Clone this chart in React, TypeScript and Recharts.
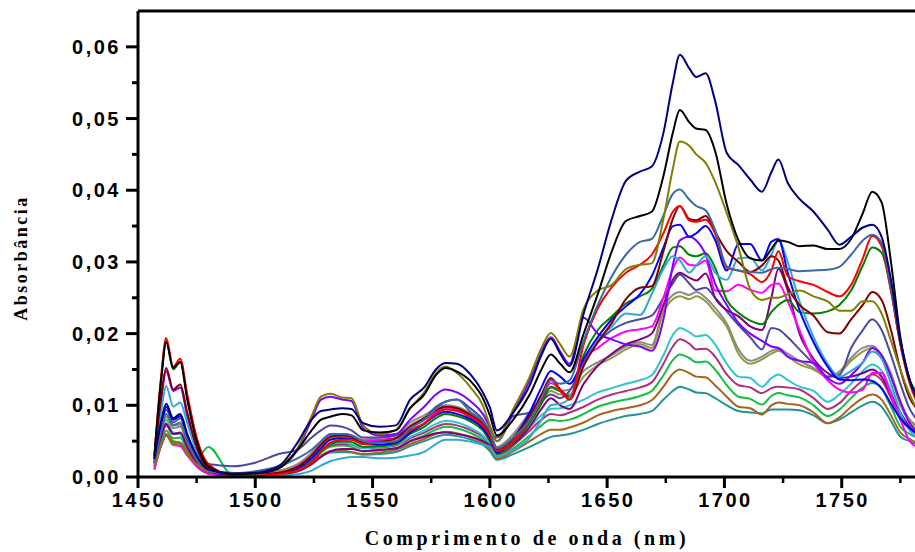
import { LineChart, Line, XAxis, YAxis, ReferenceLine } from "recharts";

// wavelength grid (nm), rows of 10
const WAVELENGTH = [
  1457, 1460, 1462, 1465, 1468, 1471, 1475, 1480, 1490, 1500,
  1510, 1518, 1524, 1528, 1532, 1537, 1541, 1546, 1553, 1560,
  1566, 1572, 1577, 1581, 1586, 1592, 1597, 1600, 1603, 1610,
  1617, 1622, 1626, 1630, 1634, 1640, 1646, 1652, 1658, 1664,
  1669, 1674, 1678, 1681, 1685, 1688, 1692, 1696, 1701, 1706,
  1711, 1716, 1720, 1723, 1727, 1732, 1738, 1744, 1749, 1754,
  1759, 1763, 1767, 1771, 1775, 1779, 1782,
];

// absorbance values in units of 1e-3
const NAVY = [
  2.5, 8, 10.2, 8.2, 8.8, 6, 3, 1.0, 0.5, 0.6,
  1.5, 4.8, 8.0, 9.2, 9.4, 9.6, 9.5, 7.5, 7.0, 7.2,
  10.8, 12.5, 15.0, 15.9, 15.8, 14.2, 11.8, 9.7, 6.5, 9.0,
  12.8, 17.0, 19.3, 17.2, 15.5, 22.8, 29.0, 36.0, 41.3, 42.6,
  43.3, 48.0, 55.0, 58.9, 57.0, 55.8, 56.3, 52.5, 45.2, 43.5,
  41.5, 39.8, 42.5, 44.3, 41.0, 38.8, 37.0, 34.5, 32.4, 33.5,
  34.8, 35.2, 33.5, 27.5, 19.0, 13.5, 11.0,
];
const BLACK = [
  3.0, 14.0, 18.8, 15.2, 16.0, 10.8, 5.0, 1.5, 0.4, 0.5,
  1.2, 3.8, 6.5, 8.0, 8.4, 8.8, 8.6, 6.5, 6.2, 6.5,
  9.6, 11.5, 14.2, 15.2, 14.7, 13.3, 11.0, 8.6, 5.8, 8.0,
  11.5, 15.0, 17.1, 15.8, 14.6, 20.0, 25.5, 31.5, 35.7, 36.4,
  37.0, 42.0, 48.0, 51.2, 49.5, 48.6, 48.4, 45.5, 38.0, 33.0,
  30.5, 30.2, 31.8, 33.0, 32.8, 32.2, 32.3, 31.8, 31.8, 33.2,
  36.8, 39.8, 38.3, 30.0, 19.5, 13.5, 11.0,
];
const OLIVE = [
  1.5, 4.5, 5.8, 4.5, 4.8, 3.2, 1.8, 0.8, 0.6, 0.4,
  1.5, 4.0, 8.5, 11.2, 11.6, 11.1, 11.0, 7.2, 6.0, 6.6,
  9.6, 11.8, 14.5, 15.4, 14.5, 12.4, 10.0, 7.2, 5.0, 9.5,
  14.0, 18.0, 20.1, 18.5, 16.8, 23.5, 26.0, 26.8, 29.0, 29.6,
  29.8, 36.0, 43.0, 46.8, 46.2, 45.0, 43.8, 41.2, 36.8, 32.0,
  26.2, 24.7, 25.0, 25.0, 25.5, 26.0, 25.2, 24.5, 23.2, 23.2,
  24.5, 24.5, 22.8, 19.0, 15.0, 11.5, 9.5,
];
const STEEL = [
  2.0, 6.5, 8.8, 7.2, 7.6, 5.0, 2.5, 0.8, 0.5, 0.8,
  1.5, 2.6, 3.8, 5.0, 6.0, 6.0, 5.8, 5.0, 4.8, 5.0,
  6.8, 8.0, 9.5, 10.5, 10.8, 9.0, 7.8, 6.5, 4.0, 5.5,
  8.0, 11.0, 13.5, 13.0, 13.5, 19.0, 24.0, 28.0, 31.0, 32.8,
  33.2, 36.5, 39.5, 40.1, 38.7, 37.8, 37.2, 34.5, 29.4, 28.8,
  28.6, 28.5, 29.0, 29.2, 29.0, 28.7, 28.8, 28.9, 29.3, 31.0,
  33.0, 33.8, 32.7, 26.5, 19.0, 13.5, 11.0,
];
const RED = [
  3.0, 14.5, 19.4, 15.4, 16.5, 11.5, 5.5, 1.8, 0.3, 0.2,
  0.4, 0.9, 2.0, 3.5, 4.8, 5.2, 5.2, 4.6, 4.8, 5.0,
  6.5, 7.5, 8.8, 9.4, 9.2, 8.4, 7.2, 5.8, 3.6, 5.0,
  8.0, 10.8, 13.6, 12.0, 10.8, 18.5, 23.5, 26.5, 28.5, 29.6,
  31.0, 34.0, 37.0, 37.8, 35.8, 35.6, 35.9, 34.0, 29.2, 28.8,
  28.3, 27.2, 28.8, 31.5, 28.0, 27.3, 26.8, 25.8, 25.2, 26.8,
  30.5, 33.6, 32.2, 26.0, 18.5, 13.0, 10.5,
];
const WINE = [
  2.5, 11.5, 15.2, 12.2, 12.9, 9.0, 4.2, 1.2, 0.3, 0.3,
  0.6, 1.4, 3.0, 4.5, 5.6, 5.8, 5.6, 4.8, 4.9, 5.4,
  7.0, 8.2, 9.3, 9.8, 9.6, 8.6, 7.4, 6.0, 3.8, 5.4,
  8.5, 11.5, 13.8, 12.2, 10.8, 15.5, 18.8, 21.5, 24.8, 26.4,
  26.6, 31.5, 36.0, 37.8, 36.0, 35.8, 36.4, 34.2, 31.5, 30.0,
  28.6, 29.5, 30.8, 30.2, 26.5, 24.0, 22.5, 20.2, 20.0, 22.0,
  24.0, 25.8, 24.7, 20.5, 15.0, 11.0, 9.5,
];
const BLUE = [
  2.0, 7.5, 9.8, 8.0, 8.5, 5.8, 2.8, 0.8, 0.3, 0.3,
  0.5, 1.2, 2.6, 4.0, 5.2, 5.4, 5.3, 4.6, 4.5, 4.8,
  6.2, 7.4, 8.6, 9.1, 8.8, 8.0, 6.8, 5.4, 3.4, 5.4,
  9.0, 12.5, 14.8, 14.0, 13.0, 16.5, 19.5, 22.0, 23.8, 25.5,
  28.0, 32.0, 35.0, 35.2, 33.5, 34.0, 35.0, 33.1, 28.8, 32.5,
  32.5, 30.2, 32.8, 33.2, 28.5, 23.3, 18.8, 15.4, 13.6, 13.5,
  13.6, 13.4, 12.4, 10.2, 8.2, 6.8, 6.0,
];
const VIOLET = [
  2.5, 11.0, 14.8, 12.0, 12.5, 8.5, 4.0, 1.2, 0.3, 0.4,
  1.2, 3.8, 8.0, 10.8, 11.2, 10.8, 10.6, 6.8, 5.8, 6.0,
  8.0, 9.8, 11.5, 12.2, 11.8, 10.5, 8.8, 7.0, 5.0, 9.0,
  13.5, 17.5, 19.5, 17.5, 15.8, 22.2, 20.0, 19.2, 18.5, 18.2,
  17.6, 22.0, 29.5, 33.0, 33.5, 33.0, 31.0, 27.0, 24.0, 21.5,
  20.0, 19.0, 18.2, 18.0, 16.8, 16.2, 15.9, 13.8, 13.0, 14.2,
  16.0, 18.0, 17.0, 14.0, 10.5, 7.5, 6.5,
];
const GREEN = [
  2.8, 14.0, 19.0, 15.0, 16.1, 11.2, 5.3, 1.8, 0.3, 0.3,
  0.5, 1.0, 2.2, 3.6, 4.6, 5.0, 4.9, 4.2, 4.3, 4.6,
  6.0, 7.0, 8.2, 8.8, 8.5, 7.7, 6.5, 5.0, 3.2, 4.8,
  7.5, 10.2, 12.6, 12.0, 11.2, 17.0, 20.5, 22.4, 24.2, 25.2,
  26.2, 29.5, 32.0, 32.2, 31.0, 30.8, 31.2, 29.2, 24.7, 22.9,
  21.8, 21.3, 23.0, 24.0, 24.7, 23.0, 22.8, 23.1, 24.0, 26.0,
  29.5, 32.0, 31.3, 26.0, 18.5, 13.5, 11.8,
];
const MAGENTA = [
  1.0, 4.5, 5.9, 4.5, 4.3, 3.0, 1.5, 0.5, 0.2, 0.3,
  0.6, 1.5, 3.0, 4.5, 5.8, 6.0, 5.8, 5.0, 5.2, 5.4,
  7.0, 8.0, 9.0, 9.5, 9.3, 8.2, 7.0, 5.6, 3.4, 5.0,
  8.0, 10.8, 13.1, 12.2, 11.2, 16.5, 18.0, 19.4, 20.3, 20.6,
  21.0, 25.0, 29.0, 30.6, 29.6, 29.5, 30.2, 26.0, 25.9, 26.8,
  26.1, 25.7, 26.8, 27.0, 24.5, 20.5, 16.0, 13.5, 12.2, 11.8,
  12.2, 14.5, 14.5, 11.5, 8.0, 5.0, 4.2,
];
const PURPLE = [
  2.0, 5.8, 7.4, 6.0, 6.2, 4.2, 2.0, 0.6, 0.3, 0.3,
  0.4, 0.8, 1.8, 2.8, 3.6, 3.9, 3.9, 3.6, 3.8, 4.0,
  5.0, 5.6, 6.1, 6.2, 6.0, 5.6, 5.0, 4.4, 3.4, 4.6,
  7.0, 9.5, 11.0, 10.0, 9.5, 13.0, 15.5, 17.2, 18.5, 19.2,
  20.0, 24.0, 27.5, 28.5, 27.8, 27.4, 28.4, 25.0, 23.3, 22.4,
  21.0, 20.5, 25.0, 29.0, 26.0, 20.0, 16.5, 14.5, 13.8, 14.0,
  14.5, 15.0, 14.0, 11.5, 9.0, 7.0, 6.2,
];
const SLATE = [
  2.2, 7.0, 9.4, 7.6, 8.2, 5.6, 3.0, 1.8, 1.5, 2.0,
  3.2, 3.8, 5.5, 6.5, 7.2, 7.0, 6.5, 5.5, 5.5, 5.8,
  7.0, 8.0, 9.8, 10.5, 10.8, 9.5, 8.0, 6.5, 5.5, 8.5,
  9.0, 10.5, 11.5, 11.0, 12.0, 16.0, 18.8, 20.5, 21.5, 22.0,
  22.5, 25.0, 27.0, 28.2, 27.0, 26.1, 26.4, 25.0, 23.1, 21.2,
  19.5, 17.8, 20.8, 20.6, 19.5, 17.8, 15.8, 14.0, 14.2, 18.0,
  20.5, 22.0, 20.5, 17.0, 13.0, 9.5, 8.0,
];
const SKY = [
  2.5, 9.5, 12.7, 9.8, 10.4, 7.5, 3.5, 1.0, 0.2, 0.1,
  0.2, 0.4, 0.9, 1.6, 2.2, 2.6, 2.8, 2.8, 2.6, 2.7,
  3.0, 3.5, 4.6, 5.2, 5.2, 4.9, 4.5, 4.2, 2.9, 3.8,
  5.5, 8.0, 10.0, 10.2, 11.0, 15.5, 19.0, 21.0, 22.8, 22.6,
  25.5, 29.0, 30.8, 30.2, 28.5, 29.5, 30.8, 28.5, 27.5, 30.5,
  30.6, 28.8, 31.0, 33.0, 30.0, 24.5, 19.5, 15.8, 14.0, 14.8,
  16.0, 17.5, 16.5, 13.0, 9.0, 6.5, 5.5,
];
const OLIVE_GRAY = [
  2.0, 6.5, 8.4, 7.2, 7.3, 5.0, 2.2, 0.7, 0.5, 0.4,
  0.8, 1.6, 3.0, 4.4, 5.4, 5.6, 5.4, 4.8, 5.0, 5.4,
  7.2, 8.2, 9.2, 9.7, 9.4, 8.4, 7.2, 5.7, 4.0, 5.6,
  8.5, 10.5, 12.0, 11.5, 11.5, 14.0, 15.6, 16.6, 17.8, 18.5,
  18.0, 23.0, 24.8, 25.2, 24.8, 25.2, 24.5, 23.0, 21.0, 17.2,
  15.8, 16.4, 17.2, 17.6, 16.8, 15.7, 15.0, 14.0, 14.5, 16.2,
  17.5, 18.0, 16.6, 14.0, 10.0, 7.8, 7.0,
];
const GRAY = [
  1.8, 6.0, 8.0, 6.8, 7.0, 4.6, 2.0, 0.6, 0.4, 0.5,
  0.9, 1.8, 3.4, 4.8, 5.8, 6.0, 5.8, 5.2, 5.5, 5.9,
  7.6, 8.6, 9.6, 10.0, 9.8, 8.8, 7.5, 6.0, 4.2, 6.0,
  9.0, 11.0, 12.4, 12.0, 12.2, 14.8, 16.0, 17.0, 18.2, 18.8,
  18.4, 23.5, 25.4, 25.8, 25.4, 25.8, 25.0, 23.6, 21.4, 17.8,
  16.2, 16.8, 17.6, 17.9, 17.2, 16.2, 15.2, 14.0, 14.7, 16.6,
  18.0, 18.3, 17.0, 14.5, 10.5, 8.0, 7.2,
];
const CYAN = [
  1.8, 5.8, 7.5, 6.2, 6.0, 4.4, 2.0, 0.6, 0.3, 0.3,
  0.6, 1.3, 2.6, 3.8, 4.6, 4.8, 4.6, 4.0, 4.2, 4.5,
  5.6, 6.5, 7.4, 7.8, 7.6, 6.8, 5.8, 4.7, 3.2, 4.8,
  7.0, 8.6, 9.5, 9.6, 10.0, 10.8, 11.8, 12.4, 13.0, 13.5,
  14.2, 17.0, 19.8, 20.8, 20.2, 19.6, 19.8, 18.5, 15.8, 14.0,
  13.8, 12.6, 13.8, 14.3, 13.5, 12.6, 12.0, 10.5, 11.5, 13.0,
  14.8, 15.7, 14.8, 12.0, 8.5, 7.0, 6.5,
];
const RASPBERRY = [
  1.8, 5.6, 7.2, 6.0, 6.0, 4.0, 1.8, 0.5, 0.2, 0.3,
  0.5, 1.2, 2.4, 3.6, 4.4, 4.6, 4.5, 4.0, 4.1, 4.4,
  5.4, 6.2, 7.0, 7.4, 7.2, 6.5, 5.6, 4.5, 3.0, 4.4,
  6.5, 8.0, 8.8, 8.6, 9.0, 9.8, 10.8, 11.5, 12.0, 12.5,
  13.2, 15.8, 18.2, 19.2, 18.6, 17.8, 17.9, 16.8, 14.3, 12.8,
  12.5, 11.7, 12.4, 12.6, 12.5, 12.2, 11.0, 9.5, 10.3, 12.0,
  13.5, 14.3, 13.5, 11.0, 8.0, 6.8, 6.2,
];
const LIME = [
  1.5, 5.0, 6.5, 5.4, 5.5, 3.8, 2.6, 4.2, 0.4, 0.3,
  0.5, 1.1, 2.2, 3.4, 4.2, 4.4, 4.2, 3.6, 3.7, 4.0,
  5.0, 5.8, 6.6, 7.0, 6.8, 6.1, 5.2, 4.2, 2.8, 4.0,
  5.8, 7.2, 8.0, 7.8, 8.0, 8.8, 9.8, 10.4, 10.8, 11.3,
  12.0, 14.2, 16.3, 17.1, 16.6, 16.0, 16.1, 15.0, 12.8, 11.2,
  10.9, 10.1, 11.3, 11.7, 11.4, 11.1, 10.0, 8.5, 9.4, 11.0,
  12.5, 13.1, 12.3, 9.8, 7.0, 6.0, 5.5,
];
const BROWN = [
  1.2, 4.6, 6.0, 5.0, 4.8, 3.4, 1.6, 0.5, 0.2, 0.2,
  0.4, 1.0, 2.0, 3.0, 3.6, 3.7, 3.5, 3.2, 3.4, 3.8,
  4.6, 5.3, 6.0, 6.3, 6.1, 5.5, 4.8, 3.9, 2.6, 3.6,
  5.0, 6.0, 6.6, 6.6, 6.9, 7.6, 8.6, 9.2, 9.6, 10.0,
  10.7, 12.6, 14.4, 15.0, 14.5, 14.0, 13.9, 12.8, 11.2, 9.8,
  9.6, 8.7, 10.0, 10.4, 10.2, 10.0, 9.0, 7.5, 8.3, 9.8,
  11.0, 11.5, 10.8, 8.6, 6.2, 5.3, 4.8,
];
const TEAL = [
  1.5, 4.5, 5.8, 4.8, 4.6, 3.2, 1.5, 0.5, 0.2, 0.2,
  0.3, 0.8, 1.8, 2.8, 3.4, 3.5, 3.4, 3.1, 3.2, 3.5,
  4.3, 5.0, 5.6, 5.9, 5.7, 5.2, 4.5, 3.6, 2.4, 3.2,
  4.2, 5.0, 5.6, 5.8, 6.0, 6.6, 7.4, 8.0, 8.5, 8.8,
  9.2, 10.8, 12.0, 12.6, 12.2, 11.8, 11.7, 11.0, 10.0, 9.2,
  9.0, 8.9, 9.4, 9.4, 9.4, 9.3, 8.6, 7.5, 8.0, 9.0,
  10.0, 10.5, 9.8, 7.8, 5.6, 5.0, 4.6,
];

const SERIES = [
  { key: "teal", color: "#209494", values: TEAL },
  { key: "brown", color: "#a5651e", values: BROWN },
  { key: "lime", color: "#10c040", values: LIME },
  { key: "raspberry", color: "#b0307a", values: RASPBERRY },
  { key: "cyan", color: "#30c4d0", values: CYAN },
  { key: "gray", color: "#8a8a8a", values: GRAY },
  { key: "oliveGray", color: "#8f9a3a", values: OLIVE_GRAY },
  { key: "slate", color: "#4a4aa0", values: SLATE },
  { key: "purple", color: "#800080", values: PURPLE },
  { key: "magenta", color: "#ff00ff", values: MAGENTA },
  { key: "green", color: "#008000", values: GREEN },
  { key: "violet", color: "#8000ff", values: VIOLET },
  { key: "sky", color: "#30a8d8", values: SKY },
  { key: "blue", color: "#0000ff", values: BLUE },
  { key: "wine", color: "#800000", values: WINE },
  { key: "red", color: "#ff0000", values: RED },
  { key: "steel", color: "#3a6aa5", values: STEEL },
  { key: "olive", color: "#808000", values: OLIVE },
  { key: "black", color: "#000000", values: BLACK },
  { key: "navy", color: "#000080", values: NAVY },
];

const X_TICKS = [1450, 1475, 1500, 1525, 1550, 1575, 1600, 1625, 1650, 1675, 1700, 1725, 1750, 1775];
const Y_TICKS = [0, 0.005, 0.01, 0.015, 0.02, 0.025, 0.03, 0.035, 0.04, 0.045, 0.05, 0.055, 0.06];

const data = WAVELENGTH.map((w, i) => {
  const row: Record<string, number> = { w };
  SERIES.forEach((s) => {
    row[s.key] = s.values[i] / 1000;
  });
  return row;
});

const tickFont = {
  fontFamily: "'Liberation Sans', Arial, sans-serif",
  fontWeight: 700,
  fontSize: 20,
  letterSpacing: 2.5,
};

function XTick({ x, y, payload }: any) {
  const v = payload.value;
  const major = v % 50 === 0;
  return (
    <g>
      <line x1={x} x2={x} y1={y} y2={y + (major ? 11 : 6)} stroke="#000" strokeWidth={major ? 3 : 2.5} />
      {major && (
        <text x={x + 1} y={y + 30} textAnchor="middle" fill="#000" style={tickFont}>
          {v}
        </text>
      )}
    </g>
  );
}

function YTick({ x, y, payload }: any) {
  const v = payload.value;
  const major = Math.round(v * 1000) % 10 === 0;
  return (
    <g>
      <line x1={x - (major ? 12 : 6)} x2={x} y1={y} y2={y} stroke="#000" strokeWidth={3} />
      {major && (
        <text x={x - 17} y={y + 7} textAnchor="end" fill="#000" style={tickFont}>
          {v.toFixed(2).replace(".", ",")}
        </text>
      )}
    </g>
  );
}

const titleFont = {
  fontFamily: "'Liberation Serif', 'Times New Roman', serif",
  fontWeight: 700,
  fontSize: 20,
  color: "#000",
};

export default function App() {
  return (
    <div
      style={{
        position: "fixed",
        left: 0,
        top: 0,
        width: 915,
        height: 552,
        overflow: "hidden",
        background: "#fff",
      }}
    >
      <LineChart
        width={1000}
        height={552}
        data={data}
        margin={{ top: 11, right: 41, left: 78, bottom: 35 }}
      >
        <XAxis
          dataKey="w"
          type="number"
          domain={[1450, 1800]}
          ticks={X_TICKS}
          interval={0}
          tickSize={0}
          tickMargin={0}
          tickLine={false}
          axisLine={{ stroke: "#000", strokeWidth: 3 }}
          tick={<XTick />}
          height={40}
        />
        <YAxis
          type="number"
          domain={[0, 0.065]}
          ticks={Y_TICKS}
          interval={0}
          tickSize={0}
          tickMargin={0}
          tickLine={false}
          axisLine={{ stroke: "#000", strokeWidth: 3 }}
          tick={<YTick />}
          width={60}
        />
        <ReferenceLine y={0.065} stroke="#000" strokeWidth={3} />
        {SERIES.map((s) => (
          <Line
            key={s.key}
            dataKey={s.key}
            type="monotone"
            stroke={s.color}
            strokeWidth={2}
            dot={false}
            activeDot={false}
            isAnimationActive={false}
          />
        ))}
      </LineChart>

      <div
        style={{
          ...titleFont,
          position: "absolute",
          left: 527,
          top: 527,
          transform: "translateX(-50%)",
          whiteSpace: "nowrap",
          letterSpacing: 3.6,
        }}
      >
        Comprimento de onda (nm)
      </div>
      <div
        style={{
          ...titleFont,
          fontSize: 18,
          position: "absolute",
          left: 21,
          top: 258,
          transform: "translate(-50%, -50%) rotate(-90deg)",
          whiteSpace: "nowrap",
          letterSpacing: 2.5,
        }}
      >
        Absorbância
      </div>
    </div>
  );
}
